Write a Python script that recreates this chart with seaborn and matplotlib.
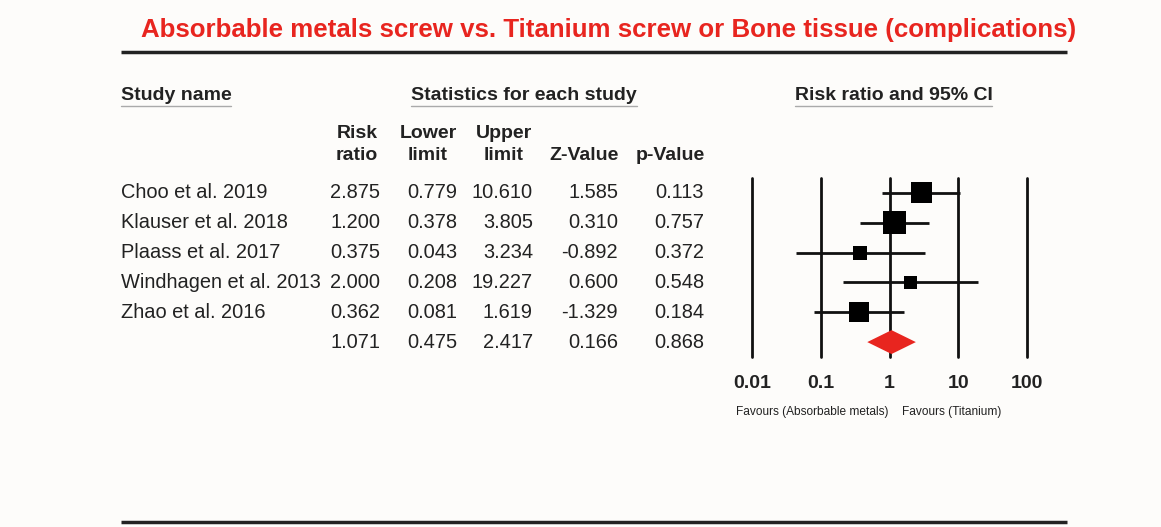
import numpy as np
import pandas as pd
import seaborn as sns
import matplotlib
matplotlib.use('Agg')
import matplotlib.pyplot as plt

# 数据
studies = ['Choo et al. 2019', 'Klauser et al. 2018', 'Plaass et al. 2017',
           'Windhagen et al. 2013', 'Zhao et al. 2016']
risk_ratio = [2.875, 1.200, 0.375, 2.000, 0.362]
lower = [0.779, 0.378, 0.043, 0.208, 0.081]
upper = [10.610, 3.805, 3.234, 19.227, 1.619]
z_value = [1.585, 0.310, -0.892, 0.600, -1.329]
p_value = [0.113, 0.757, 0.372, 0.548, 0.184]
weights = [25.7, 30.8, 11.4, 9.9, 22.2]  # 相对权重(方块面积)

pooled = {'rr': 1.071, 'lower': 0.475, 'upper': 2.417, 'z': 0.166, 'p': 0.868}

ticks = [0.01, 0.1, 1, 10, 100]
tick_labels = ['0.01', '0.1', '1', '10', '100']

sns.set_theme(style='white')
plt.rcParams['font.family'] = ['Liberation Sans', 'DejaVu Sans']

RED = '#e8251f'
BG = '#fdfcfa'
TXT = '#222222'

fig = plt.figure(figsize=(11.61, 5.27), dpi=100)
fig.patch.set_facecolor(BG)

# 全图像素坐标轴，用来放文字
bg = fig.add_axes([0, 0, 1, 1])
bg.set_xlim(0, 1161)
bg.set_ylim(527, 0)
bg.axis('off')
bg.set_facecolor(BG)

bg.text(609, 30, 'Absorbable metals screw vs. Titanium screw or Bone tissue (complications)',
        color=RED, fontsize=18.6, fontweight='bold', ha='center', va='center')
bg.plot([121, 1067], [52, 52], color=TXT, lw=2.5, solid_capstyle='butt')
bg.plot([121, 1067], [522, 522], color=TXT, lw=2.5, solid_capstyle='butt')

# 分组标题 + 下划线
for txt, x0, x1 in [('Study name', 121, 231),
                    ('Statistics for each study', 411, 637),
                    ('Risk ratio and 95% CI', 795, 992)]:
    bg.text(x0, 95, txt, fontsize=14, fontweight='bold', ha='left', va='center', color=TXT)
    bg.plot([x0, x1], [106, 106], color='#aaaaaa', lw=1)

col_x = [380, 457, 533, 618, 704]
# 列标题（两行的按中心对齐）
for top, bot, xc in [('Risk', 'ratio', 357), ('Lower', 'limit', 428), ('Upper', 'limit', 504)]:
    bg.text(xc, 133, top, fontsize=14, fontweight='bold', ha='center', va='center', color=TXT)
    bg.text(xc, 156, bot, fontsize=14, fontweight='bold', ha='center', va='center', color=TXT)
bg.text(619, 156, 'Z-Value', fontsize=14, fontweight='bold', ha='right', va='center', color=TXT)
bg.text(705, 156, 'p-Value', fontsize=14, fontweight='bold', ha='right', va='center', color=TXT)

row_y = [193, 223, 252, 282, 312, 342]
fs = 14.4
for i, name in enumerate(studies):
    vals = [risk_ratio[i], lower[i], upper[i], z_value[i], p_value[i]]
    bg.text(121, row_y[i], name, fontsize=fs, ha='left', va='center', color=TXT)
    for x, v in zip(col_x, vals):
        bg.text(x, row_y[i], '{:.3f}'.format(v), fontsize=fs, ha='right', va='center', color=TXT)
pv = [pooled['rr'], pooled['lower'], pooled['upper'], pooled['z'], pooled['p']]
for x, v in zip(col_x, pv):
    bg.text(x, row_y[5], '{:.3f}'.format(v), fontsize=fs, ha='right', va='center', color=TXT)

# 森林图
ax = fig.add_axes([752 / 1161, 1 - 357 / 527, 275 / 1161, 179 / 527])
ax.set_facecolor('none')
ax.set_xscale('log')
ax.set_xlim(0.01, 100)
ax.set_ylim(5.5, -0.5)
for t in ticks:
    ax.axvline(t, color='#111111', lw=2, clip_on=False)

rows = np.arange(len(studies))
ax.hlines(rows, lower, upper, color='#111111', lw=2)
df = pd.DataFrame({'rr': risk_ratio, 'row': rows, 'w': weights})
k = 8.9
sns.scatterplot(data=df, x='rr', y='row', size='w',
                sizes=(min(weights) * k, max(weights) * k),
                marker='s', color='black', linewidth=0, legend=False, ax=ax, zorder=3)

h = 0.4
ax.fill([pooled['lower'], pooled['rr'], pooled['upper'], pooled['rr']],
        [5, 5 - h, 5, 5 + h], color=RED, lw=0, zorder=3)

for s in ax.spines.values():
    s.set_visible(False)
ax.set_xticks(ticks)
ax.set_xticklabels(tick_labels, fontsize=14, fontweight='bold', color=TXT)
ax.tick_params(axis='x', length=0, pad=13)
ax.minorticks_off()
ax.set_yticks([])
ax.set_xlabel('')
ax.set_ylabel('')

bg.text(812, 412, 'Favours (Absorbable metals)', fontsize=8.6, ha='center', va='center', color=TXT)
bg.text(952, 412, 'Favours (Titanium)', fontsize=8.6, ha='center', va='center', color=TXT)

fig.savefig('out.png', dpi=100, facecolor=BG)
